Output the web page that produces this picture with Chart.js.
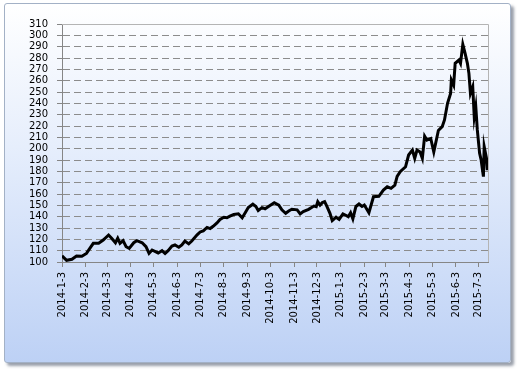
<!DOCTYPE html>
<html>
<head>
<meta charset="utf-8">
<script src="https://cdn.jsdelivr.net/npm/chart.js@4/dist/chart.umd.min.js"></script>
<style>
  html, body { margin: 0; padding: 0; background: #fff; }
  #wrap { position: relative; width: 520px; height: 374px; overflow: hidden; }
  #frame {
    position: absolute; left: 4px; top: 3px; width: 505px; height: 358px;
    border: 1px solid #a3b1c6; border-radius: 3px;
    background: linear-gradient(to bottom, #ffffff 0%, #e6eefc 40%, #bdd1f5 100%);
    box-shadow: 3px 3px 3px rgba(70, 80, 100, 0.55);
  }
  #chart { position: absolute; left: 0; top: 0; }
</style>
</head>
<body>
<div id="wrap">
  <div id="frame"></div>
  <canvas id="chart" width="520" height="374"></canvas>
</div>
<script>
// days counted from 2014-1-3
const days = [
  0,6,13,19,26,32,38,41,48,54,
  61,65,70,73,76,80,84,88,94,98,
  105,110,114,118,123,126,131,135,139,144,
  148,153,157,161,166,170,177,181,185,190,
  194,198,203,207,212,216,220,225,231,236,
  240,244,250,254,257,262,266,271,278,284,
  288,293,297,301,308,312,316,323,330,333,
  335,338,341,344,347,351,354,359,363,368,
  371,375,378,381,385,389,393,396,402,408,
  415,421,426,431,436,439,443,450,454,459,
  462,465,469,472,475,478,483,487,493,498,
  501,505,509,510,513,515,520,522,525,528,
  531,533,535,538,540,542,544,547,549,552,
  553,556,557
];
const values = [
  105.5,101.5,102.4,105.3,105,107.6,113.5,116.5,116.5,119.4,
  123.8,121,117,121,116.5,118.8,113.5,112,117,118.8,
  117,113.5,107.6,110.6,109,108,110,107.5,110,114,
  115,113,115,118.5,116,118.5,124,126.5,127.5,130.5,
  129.5,131.5,134.5,137.5,139.5,139,140.5,142,142.5,139,
  143.5,148,151,149,145.5,148,147,149.2,152.3,150.2,
  146,143,145,146.5,146,142.5,144.5,146.5,149.4,148.8,
  153.2,150.2,152.4,153.2,149,143,136.5,139.5,137.6,142.5,
  141.5,140,143.5,138,149,151.2,149,150.3,143.5,157.6,
  158,163.5,166.4,165,167.8,175.5,179.7,184,194.4,198.8,
  191.5,198.8,197,191.5,211,207.6,209,197,216,219.4,
  225.3,240,248.8,260.6,256,275.3,278.2,275.3,292,284,
  275.3,266.5,248.8,254.6,228.2,237,216.5,196,190,175.3,
  201.8,191.5,181
];
const tickLabels = [
  "2014-1-3","2014-2-3","2014-3-3","2014-4-3","2014-5-3","2014-6-3",
  "2014-7-3","2014-8-3","2014-9-3","2014-10-3","2014-11-3","2014-12-3",
  "2015-1-3","2015-2-3","2015-3-3","2015-4-3","2015-5-3","2015-6-3","2015-7-3"
];
const yMin = 100, yMax = 310, yStep = 10;
const lastDay = 558;

const dayOf = (s)=>{
  const [y, m, d] = s.split("-").map(Number);
  return Math.round((Date.UTC(y, m-1, d) - Date.UTC(2014, 0, 3)) / 86400000);
};
const tickDays = tickLabels.map(dayOf);

// plot area outline (top / right edges in light gray)
const plotBorder = {
  id: "plotBorder",
  beforeDatasetsDraw(chart){
    const {ctx, chartArea: a} = chart;
    ctx.save();
    ctx.strokeStyle = "#b4b4b4";
    ctx.lineWidth = 1;
    ctx.beginPath();
    ctx.moveTo(a.left, a.top + 0.5);
    ctx.lineTo(a.right + 0.5, a.top + 0.5);
    ctx.lineTo(a.right + 0.5, a.bottom);
    ctx.stroke();
    ctx.restore();
  }
};

Chart.defaults.font.family = "'DejaVu Sans', Verdana, sans-serif";
Chart.defaults.font.size = 10;
Chart.defaults.color = "#000";

new Chart(document.getElementById("chart"), {
  type: "line",
  data: {
    datasets: [{
      data: days.map((d, i)=>({x: d, y: values[i]})),
      borderColor: "#000",
      borderWidth: 3,
      pointRadius: 0,
      tension: 0,
      fill: false
    }]
  },
  options: {
    responsive: false,
    animation: false,
    events: [],
    layout: { padding: { left: 10, top: 24, right: 32, bottom: 42 } },
    plugins: { legend: { display: false }, tooltip: { enabled: false } },
    scales: {
      x: {
        type: "linear",
        min: 0,
        max: lastDay,
        afterFit: (s)=>{ s.height = 70; },
        afterBuildTicks: (s)=>{ s.ticks = tickDays.map(v=>({value: v})); },
        ticks: {
          autoSkip: false,
          minRotation: 90,
          maxRotation: 90,
          padding: 5,
          callback: (v, i)=>tickLabels[i]
        },
        grid: { drawOnChartArea: false, tickLength: 5, color: "#868686" },
        border: { color: "#868686", width: 1 }
      },
      y: {
        min: yMin,
        max: yMax,
        afterFit: (s)=>{ s.width = 52; },
        ticks: { stepSize: yStep, autoSkip: false, padding: 9 },
        grid: { color: (c)=> c.tick && c.tick.value === yMax ? "rgba(0,0,0,0)" : "#8c8c8c", tickColor: "#868686", tickLength: 5 },
        border: { color: "#868686", width: 1, dash: [7, 4] }
      }
    }
  },
  plugins: [plotBorder]
});
</script>
</body>
</html>
